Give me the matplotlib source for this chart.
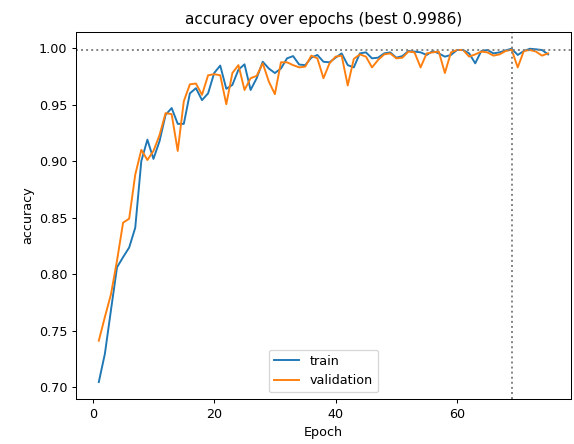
import numpy as np
import matplotlib
matplotlib.use("Agg")
import matplotlib.pyplot as plt

# values
epochs = list(range(1, 76))

train_acc = [
    0.7044, 0.7294, 0.768, 0.806, 0.815, 0.8235, 0.841, 0.900, 0.919, 0.902,
    0.9176, 0.941, 0.947, 0.933, 0.933, 0.960, 0.9646, 0.954, 0.960, 0.978,
    0.9846, 0.964, 0.9675, 0.981, 0.9857, 0.963, 0.9734, 0.988, 0.982, 0.978,
    0.982, 0.991, 0.993, 0.9855, 0.985, 0.9916, 0.994, 0.988, 0.9875, 0.9916,
    0.9954, 0.985, 0.983, 0.9954, 0.9963, 0.991, 0.9916, 0.9954, 0.9963, 0.9916,
    0.993, 0.9975, 0.997, 0.9963, 0.994, 0.9975, 0.9954, 0.9925, 0.994, 0.9984,
    0.9984, 0.9954, 0.9866, 0.9975, 0.9984, 0.9954, 0.9963, 0.998, 0.9996, 0.994,
    0.9975, 0.9995, 0.999, 0.9984, 0.9945,
]

val_acc = [
    0.741, 0.762, 0.782, 0.812, 0.8455, 0.849, 0.888, 0.910, 0.901, 0.909,
    0.923, 0.9425, 0.9416, 0.909, 0.953, 0.968, 0.9687, 0.9587, 0.976, 0.977,
    0.976, 0.9504, 0.978, 0.985, 0.963, 0.9734, 0.9755, 0.9866, 0.9705, 0.9593,
    0.9875, 0.9875, 0.985, 0.983, 0.9837, 0.9934, 0.991, 0.9734, 0.9866, 0.9925,
    0.9934, 0.967, 0.9905, 0.9945, 0.9925, 0.983, 0.9896, 0.9945, 0.9954, 0.991,
    0.9916, 0.997, 0.9963, 0.983, 0.9954, 0.9963, 0.997, 0.978, 0.9963, 0.9984,
    0.9984, 0.9925, 0.9945, 0.997, 0.9963, 0.9934, 0.9945, 0.9975, 0.9986, 0.983,
    0.9975, 0.9984, 0.997, 0.9934, 0.9954,
]

x_ticks = [0, 20, 40, 60]

best_acc = max(val_acc)
best_epoch = epochs[int(np.argmax(val_acc))]

fig, ax = plt.subplots(figsize=(574 / 92, 444 / 92), dpi=92)
fig.subplots_adjust(left=0.133, right=0.994, top=0.928, bottom=0.102)

ax.plot(epochs, train_acc, label="train")
ax.plot(epochs, val_acc, label="validation")
ax.axhline(best_acc, color="gray", linestyle=":")
ax.axvline(best_epoch, color="gray", linestyle=":")

ax.set_xticks(x_ticks)
ax.set_title(f"accuracy over epochs (best {best_acc:.4f})")
ax.set_xlabel("Epoch")
ax.set_ylabel("accuracy")
ax.legend(loc="lower center")

fig.savefig("out.png", dpi=92)
